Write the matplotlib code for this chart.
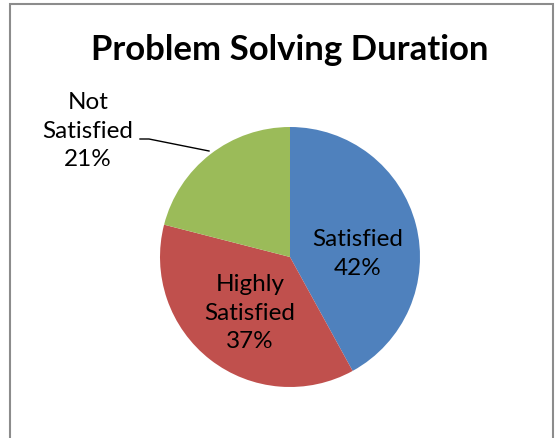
import matplotlib
matplotlib.use("Agg")
import matplotlib.pyplot as plt
from matplotlib.patches import Rectangle

W, H = 556, 439

labels = ["Satisfied", "Highly\nSatisfied", "Not\nSatisfied"]
values = [42, 37, 21]
colors = ["#4F81BD", "#C0504D", "#9BBB59"]

plt.rcParams["font.family"] = ["Lato", "DejaVu Sans"]

fig = plt.figure(figsize=(W / 100, H / 100), dpi=100)
ax = fig.add_axes([0, 0, 1, 1])


def py(y):
    # pixel row (top origin) -> data y
    return H - y


ax.pie(values, colors=colors, startangle=90, counterclock=False,
       center=(290, py(258)), radius=130, frame=True)
ax.set_xlim(0, W)
ax.set_ylim(0, H)
ax.set_aspect("equal")
ax.axis("off")

# chart border
ax.add_patch(Rectangle((9.5, py(445)), 543, 440.5, fill=False,
                       edgecolor="#8c8c8c", lw=1.5))

ax.text(290, py(50), "Problem Solving Duration", ha="center", va="center",
        fontsize=25, fontweight="bold")

pos = [(358, 254), (250, 313), (88, 131)]
for lab, val, (x, y) in zip(labels, values, pos):
    ax.text(x, py(y), f"{lab}\n{val}%", ha="center", va="center",
            fontsize=17.5, linespacing=1.42)

# leader line for the small slice
ax.plot([140, 149, 209], [py(140), py(140), py(152)], color="black", lw=1)

fig.savefig("out.png", dpi=100)
